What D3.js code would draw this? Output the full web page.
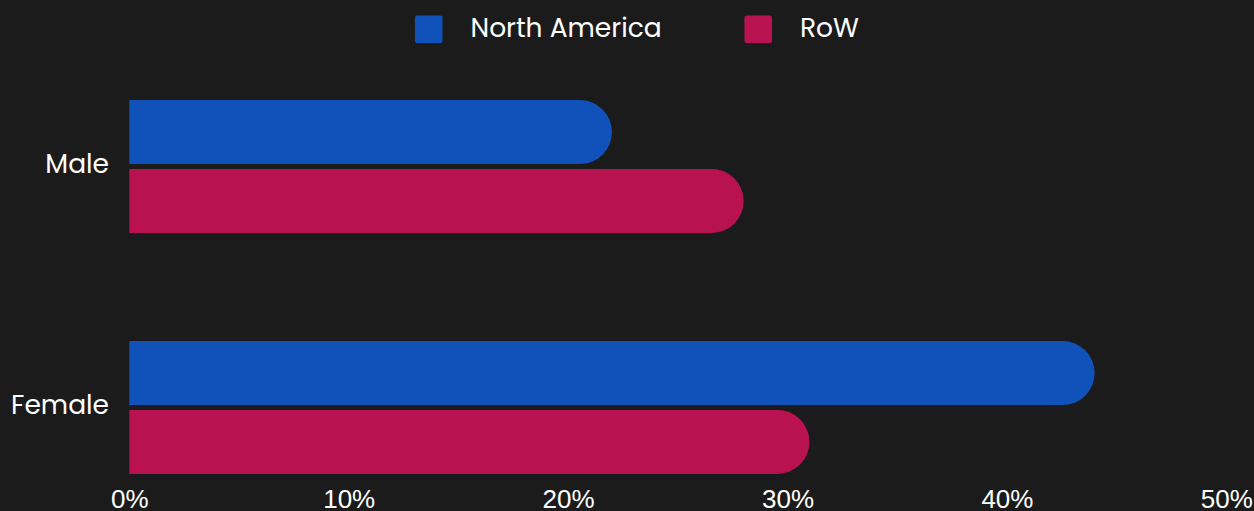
<!DOCTYPE html>
<html>
  <head>
    <meta charset="utf-8">
    <title>North America vs RoW by gender</title>
    <script src="https://d3js.org/d3.v7.min.js"></script>
    <style>
      html, body { margin: 0; padding: 0; background: #1b1b1b; overflow: hidden; }
      svg { display: block; }
    </style>
  </head>
  <body>
    <svg id="chart" width="1254" height="511"></svg>
    <script>
      // data
      var categories = ["Male", "Female"];
      var seriesNames = ["North America", "RoW"];
      var northAmerica = [0.22, 0.44];
      var row = [0.28, 0.31];
      var xTicks = [0, 0.1, 0.2, 0.3, 0.4, 0.5];

      var colors = { "North America": "#1052b9", "RoW": "#b91250" };
      var labelFont = "Poppins, Lato, 'Open Sans', sans-serif";

      var rows = categories.map(function (c, i) {
        return { cat: c, values: [
          { key: "North America", v: northAmerica[i] },
          { key: "RoW", v: row[i] }
        ] };
      });

      var svg = d3.select("#chart");

      var x = d3.scaleLinear().domain([0, 0.5]).range([129.3, 1226.3]);
      var y = d3.scaleBand().domain(categories).range([100, 474])
        .paddingInner(0.448).paddingOuter(0);
      var y1 = d3.scaleBand().domain(seriesNames).range([0, y.bandwidth()])
        .paddingInner(0.07);

      // bar with a fully rounded right end
      function barPath(x0, x1, top, h) {
        var r = Math.min(h / 2, x1 - x0);
        var p = d3.path();
        p.moveTo(x0, top);
        p.lineTo(x1 - r, top);
        p.arc(x1 - r, top + h / 2, r, -Math.PI / 2, Math.PI / 2);
        p.lineTo(x0, top + h);
        p.closePath();
        return p.toString();
      }

      var groups = svg.append("g").selectAll("g")
        .data(rows).enter().append("g")
        .attr("transform", function (d) { return "translate(0," + y(d.cat) + ")"; });

      groups.selectAll("path")
        .data(function (d) { return d.values; })
        .enter().append("path")
        .attr("d", function (d) { return barPath(x(0), x(d.v), y1(d.key), y1.bandwidth()); })
        .attr("fill", function (d) { return colors[d.key]; });

      // category labels
      var yAxis = svg.append("g")
        .attr("transform", "translate(109,0)")
        .call(d3.axisLeft(y).tickSize(0).tickPadding(0));
      yAxis.select(".domain").remove();
      yAxis.selectAll("text")
        .attr("fill", "#ffffff")
        .attr("dy", "0.26em")
        .attr("font-family", labelFont)
        .attr("font-size", "26.5px");

      // x axis
      var xAxis = svg.append("g")
        .attr("transform", "translate(0,482)")
        .call(d3.axisBottom(x).tickValues(xTicks).tickFormat(d3.format(".0%")).tickSize(0).tickPadding(8));
      xAxis.select(".domain").remove();
      xAxis.selectAll("text")
        .attr("fill", "#ffffff")
        .attr("font-family", "'Liberation Sans', Arial, sans-serif")
        .attr("font-size", "26px");

      // legend
      var legendX = d3.scaleOrdinal().domain(seriesNames).range([415, 744.5]);
      var legend = svg.append("g").selectAll("g")
        .data(seriesNames).enter().append("g")
        .attr("transform", function (d) { return "translate(" + legendX(d) + ",15.5)"; });
      legend.append("rect")
        .attr("width", 27.5).attr("height", 27.5)
        .attr("rx", 2).attr("ry", 2)
        .attr("fill", function (d) { return colors[d]; });
      legend.append("text")
        .attr("x", 55.5)
        .attr("y", 21)
        .attr("fill", "#ffffff")
        .attr("font-family", labelFont)
        .attr("font-size", "26.5px")
        .text(function (d) { return d; });
    </script>
  </body>
</html>
